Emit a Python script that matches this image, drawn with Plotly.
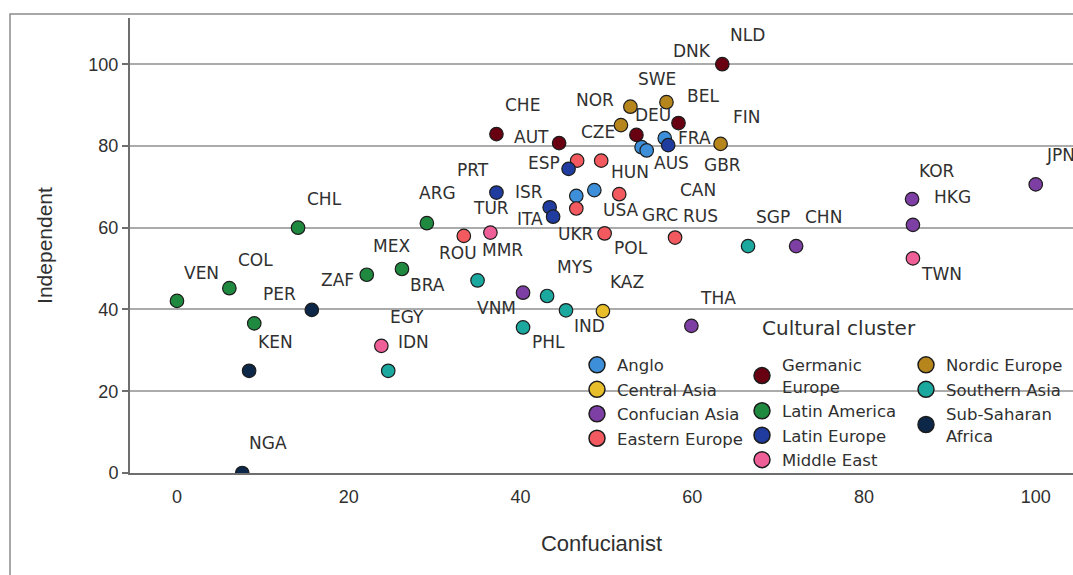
import plotly.graph_objects as go

# ---- data: Confucianist score (x) vs Independent score (y) per country ----
countries = [
    "GBR", "CAN", "AUS", "USA", "NZL",
    "KAZ",
    "VNM", "THA", "CHN", "KOR", "HKG", "JPN",
    "ROU", "CZE", "HUN", "GRC", "UKR", "POL", "RUS",
    "CHE", "AUT", "DEU", "BEL", "NLD",
    "VEN", "COL", "PER", "CHL", "MEX", "BRA", "ARG",
    "PRT", "ISR", "ITA", "ESP", "FRA",
    "EGY", "TUR", "TWN",
    "SWE", "DNK", "NOR", "FIN",
    "IDN", "MMR", "MYS", "PHL", "IND", "SGP",
    "KEN", "ZAF", "NGA",
]
confucianist = [
    56.8, 54.1, 54.7, 48.6, 46.5,
    49.6,
    40.3, 59.9, 72.1, 85.6, 85.7, 100.0,
    33.4, 46.6, 49.4, 51.5, 46.5, 49.8, 58.0,
    37.2, 44.5, 53.5, 58.4, 63.5,
    0.0, 6.1, 9.0, 14.1, 22.1, 26.2, 29.1,
    37.2, 43.4, 43.8, 45.6, 57.2,
    23.8, 36.5, 85.7,
    52.8, 57.0, 51.7, 63.3,
    24.6, 35.0, 43.1, 40.3, 45.3, 66.5,
    8.4, 15.7, 7.6,
]
independent = [
    81.9, 79.7, 78.9, 69.2, 67.8,
    39.6,
    44.1, 36.0, 55.5, 67.0, 60.7, 70.6,
    58.0, 76.4, 76.4, 68.2, 64.7, 58.6, 57.6,
    82.9, 80.7, 82.7, 85.6, 100.0,
    42.1, 45.2, 36.6, 60.0, 48.5, 49.9, 61.1,
    68.6, 65.0, 62.7, 74.4, 80.2,
    31.1, 58.8, 52.5,
    89.6, 90.7, 85.1, 80.5,
    25.0, 47.1, 43.3, 35.6, 39.8, 55.5,
    25.0, 39.9, 0.0,
]
cluster = (
    ["Anglo"] * 5
    + ["Central Asia"]
    + ["Confucian Asia"] * 6
    + ["Eastern Europe"] * 7
    + ["Germanic Europe"] * 5
    + ["Latin America"] * 7
    + ["Latin Europe"] * 5
    + ["Middle East"] * 3
    + ["Nordic Europe"] * 4
    + ["Southern Asia"] * 6
    + ["Sub-Saharan Africa"] * 3
)

cluster_order = [
    "Anglo", "Central Asia", "Confucian Asia", "Eastern Europe",
    "Germanic Europe", "Latin America", "Latin Europe", "Middle East",
    "Nordic Europe", "Southern Asia", "Sub-Saharan Africa",
]

# ---- styling ----
cluster_colors = {
    "Anglo": "#3d8fd9",
    "Central Asia": "#e8bf2a",
    "Confucian Asia": "#7d3fa3",
    "Eastern Europe": "#f25a5f",
    "Germanic Europe": "#680012",
    "Latin America": "#1f8a3f",
    "Latin Europe": "#203c9f",
    "Middle East": "#ee5f97",
    "Nordic Europe": "#b6861c",
    "Southern Asia": "#1ba89e",
    "Sub-Saharan Africa": "#0c2748",
}
legend_names = {
    "Germanic Europe": "Germanic<br>Europe",
    "Sub-Saharan Africa": "Sub-Saharan<br>Africa",
}
legend_slot = {
    "Anglo": "legend", "Central Asia": "legend", "Confucian Asia": "legend",
    "Eastern Europe": "legend",
    "Germanic Europe": "legend2", "Latin America": "legend2",
    "Latin Europe": "legend2", "Middle East": "legend2",
    "Nordic Europe": "legend3", "Southern Asia": "legend3",
    "Sub-Saharan Africa": "legend3",
}

# label placement relative to each marker, in screen pixels (dx right, dy down)
label_offsets = {
    "VEN": (25, -28), "COL": (26, -28), "PER": (25, -29), "CHL": (26, -29),
    "MEX": (25, -29), "BRA": (26, 16), "ARG": (11, -30), "KEN": (26, -29),
    "ZAF": (26, -30), "NGA": (26, -30), "EGY": (26, -29), "TUR": (1, -25),
    "TWN": (29, 16), "IDN": (25, -29), "MMR": (25, -30), "MYS": (28, -29),
    "PHL": (25, 15), "IND": (24, 16), "SGP": (25, -29), "VNM": (-27, 15),
    "THA": (27, -28), "CHN": (27, -29), "KOR": (25, -28), "HKG": (40, -28),
    "JPN": (25, -29), "KAZ": (24, -29), "SWE": (27, -28), "DNK": (26, -51),
    "NOR": (-26, -25), "FIN": (26, -27), "CHE": (26, -29), "AUT": (-28, -6),
    "DEU": (17, -20), "BEL": (25, -27), "NLD": (25, -29), "PRT": (-23, -23),
    "ISR": (-21, -15), "ITA": (-23, 2), "ESP": (-25, -6), "FRA": (26, -7),
    "GBR": (58, 27), "CAN": (56, 43), "AUS": (25, 13), "USA": (27, 20),
    "ROU": (-6, 17), "CZE": (21, -29), "HUN": (29, 11), "GRC": (41, 21),
    "UKR": (0, 25), "POL": (26, 15), "RUS": (25, -22),
}

fig = go.Figure()

# points, one trace per cultural cluster
for name in cluster_order:
    idx = [i for i, c in enumerate(cluster) if c == name]
    fig.add_trace(go.Scatter(
        x=[confucianist[i] for i in idx],
        y=[independent[i] for i in idx],
        text=[countries[i] for i in idx],
        mode="markers",
        marker=dict(size=13.5, color=cluster_colors[name],
                    line=dict(color="#1c1c1c", width=1.2)),
        showlegend=False,
        hovertemplate="%{text}<br>Confucianist=%{x}<br>Independent=%{y}<extra></extra>",
    ))

# legend entries (three columns)
for name in cluster_order:
    fig.add_trace(go.Scatter(
        x=[None], y=[None], mode="markers",
        name=legend_names.get(name, name),
        marker=dict(size=18, color=cluster_colors[name],
                    line=dict(color="#1c1c1c", width=1.5)),
        legend=legend_slot[name],
        showlegend=True,
    ))

# country labels
for c, xv, yv in zip(countries, confucianist, independent):
    if c not in label_offsets:
        continue
    dx, dy = label_offsets[c]
    fig.add_annotation(
        x=xv, y=yv, text=c, showarrow=False,
        xshift=dx, yshift=-dy, xanchor="center", yanchor="middle",
        font=dict(family="DejaVu Sans", size=17, color="#303030"),
    )

# legend title
fig.add_annotation(
    xref="paper", yref="paper", x=(760 - 130) / 943, y=(472.8 - 328) / 454.8,
    text="Cultural cluster", showarrow=False, xanchor="left", yanchor="middle",
    font=dict(family="DejaVu Sans", size=20, color="#303030"),
)

# outer frame
fig.add_shape(
    type="rect", xref="paper", yref="paper",
    x0=(10 - 130) / 943, x1=1.2,
    y0=(472.8 - 14) / 454.8, y1=-0.3,
    line=dict(color="#8c8c8c", width=1.5), fillcolor="rgba(0,0,0,0)",
    layer="below",
)

legend_font = dict(family="DejaVu Sans", size=16.5, color="#303030")
legend_common = dict(
    bgcolor="rgba(0,0,0,0)", borderwidth=0, font=legend_font,
    xanchor="left", yanchor="top", tracegroupgap=0, itemsizing="trace",
    yref="paper", xref="paper",
)
legend_top = (472.8 - 347.5) / 454.8

fig.update_layout(
    width=1073, height=575,
    margin=dict(l=130, r=0, t=18, b=102, pad=0),
    paper_bgcolor="white", plot_bgcolor="white",
    font=dict(family="Liberation Sans, Arial", color="#303030"),
    xaxis=dict(
        range=[-5.47, 104.34], showgrid=False, zeroline=False,
        showline=True, linecolor="#6e6e6e", linewidth=2,
        tickvals=[0, 20, 40, 60, 80, 100], ticks="", ticklabelstandoff=6,
        tickfont=dict(family="Liberation Sans, Arial", size=18, color="#303030"),
        title=dict(text="Confucianist", standoff=30,
                   font=dict(family="Liberation Sans, Arial", size=22, color="#303030")),
    ),
    yaxis=dict(
        range=[0, 111.3], showgrid=True, gridcolor="#ababab", gridwidth=2,
        zeroline=False, showline=True, linecolor="#6e6e6e", linewidth=2,
        tickvals=[0, 20, 40, 60, 80, 100], ticks="outside", ticklen=6,
        tickcolor="#6e6e6e", tickwidth=1.5,
        tickfont=dict(family="Liberation Sans, Arial", size=18, color="#303030"),
        title=dict(text="Independent", standoff=30,
                   font=dict(family="Liberation Sans, Arial", size=21, color="#303030")),
    ),
    legend=dict(x=(577 - 130) / 943, y=legend_top, **legend_common),
    legend2=dict(x=(742 - 130) / 943, y=legend_top, **legend_common),
    legend3=dict(x=(906 - 130) / 943, y=legend_top, **legend_common),
)

fig.write_html("out.html")
